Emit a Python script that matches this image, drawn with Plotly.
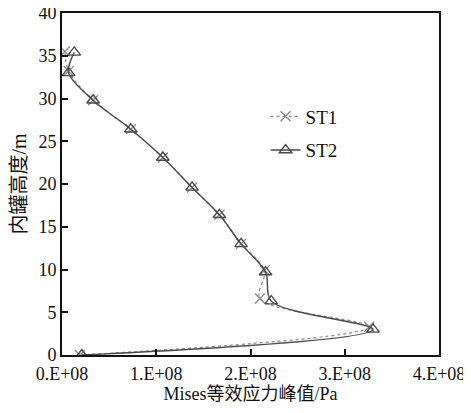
import plotly.graph_objects as go

# ST1 data (stress Pa, height m)
st1_x = [0.19e8, 3.26e8, 2.10e8, 2.15e8, 1.90e8, 1.67e8, 1.38e8, 1.07e8, 0.73e8, 0.33e8, 0.07e8, 0.03e8]
st1_y = [0.0, 3.3, 6.6, 9.9, 13.0, 16.4, 19.6, 23.1, 26.4, 29.8, 33.2, 35.5]
# ST2 data
st2_x = [0.21e8, 3.30e8, 2.22e8, 2.16e8, 1.90e8, 1.67e8, 1.38e8, 1.07e8, 0.73e8, 0.33e8, 0.07e8, 0.13e8]
st2_y = [0.0, 3.0, 6.3, 9.7, 13.0, 16.4, 19.6, 23.1, 26.4, 29.8, 33.0, 35.4]

x_tickvals = [0, 1e8, 2e8, 3e8, 4e8]
x_ticktext = ["0.E+08", "1.E+08", "2.E+08", "3.E+08", "4.E+08"]
y_tickvals = [0, 5, 10, 15, 20, 25, 30, 35, 40]

fig = go.Figure()
fig.add_trace(go.Scatter(
    x=st1_x, y=st1_y, name="ST1", mode="lines+markers", legendgroup="a",
    line=dict(color="#8a8a8a", width=1.2, dash="dot", shape="spline", smoothing=0.9),
    marker=dict(symbol="x-thin-open", size=10, line=dict(color="#6a6a6a", width=1.3)),
))
fig.add_trace(go.Scatter(
    x=st2_x, y=st2_y, name="ST2", mode="lines+markers", legendgroup="b",
    line=dict(color="#4a4a4a", width=1.4, shape="spline", smoothing=0.9),
    marker=dict(symbol="triangle-up-open", size=11, color="#4a4a4a", line=dict(color="#3a3a3a", width=1.4)),
))

font_family = "Liberation Serif, Noto Sans CJK SC, serif"
# page body adds an 8px offset at left/top, so the figure is 8px smaller
fig.update_layout(
    width=463, height=405,
    margin=dict(l=54, r=32, t=5, b=58, autoexpand=False),
    paper_bgcolor="white", plot_bgcolor="white",
    font=dict(family=font_family, size=18, color="#111"),
    legend=dict(x=0.54, y=0.753, xanchor="left", yanchor="top",
                bgcolor="rgba(0,0,0,0)", font=dict(size=19), tracegroupgap=6),
    showlegend=True,
)
fig.update_xaxes(
    range=[0, 4e8], tickvals=x_tickvals, ticktext=x_ticktext,
    ticks="inside", ticklen=6, tickcolor="#111", tickwidth=1.5,
    ticklabelstandoff=1, automargin=False, ticklabeloverflow="allow",
    showline=True, linecolor="#111", linewidth=2, mirror=True,
    showgrid=False, zeroline=False,
    title=dict(text="Mises等效应力峰值/Pa", font=dict(size=18), standoff=4),
)
fig.update_yaxes(
    range=[0, 40], tickvals=y_tickvals, automargin=False, ticklabeloverflow="allow",
    ticks="inside", ticklen=6, tickcolor="#111", tickwidth=1.5,
    showline=True, linecolor="#111", linewidth=2, mirror=True,
    showgrid=False, zeroline=False,
    title=dict(text="内罐高度/m", font=dict(size=20)),
)
fig.write_html("out.html")
